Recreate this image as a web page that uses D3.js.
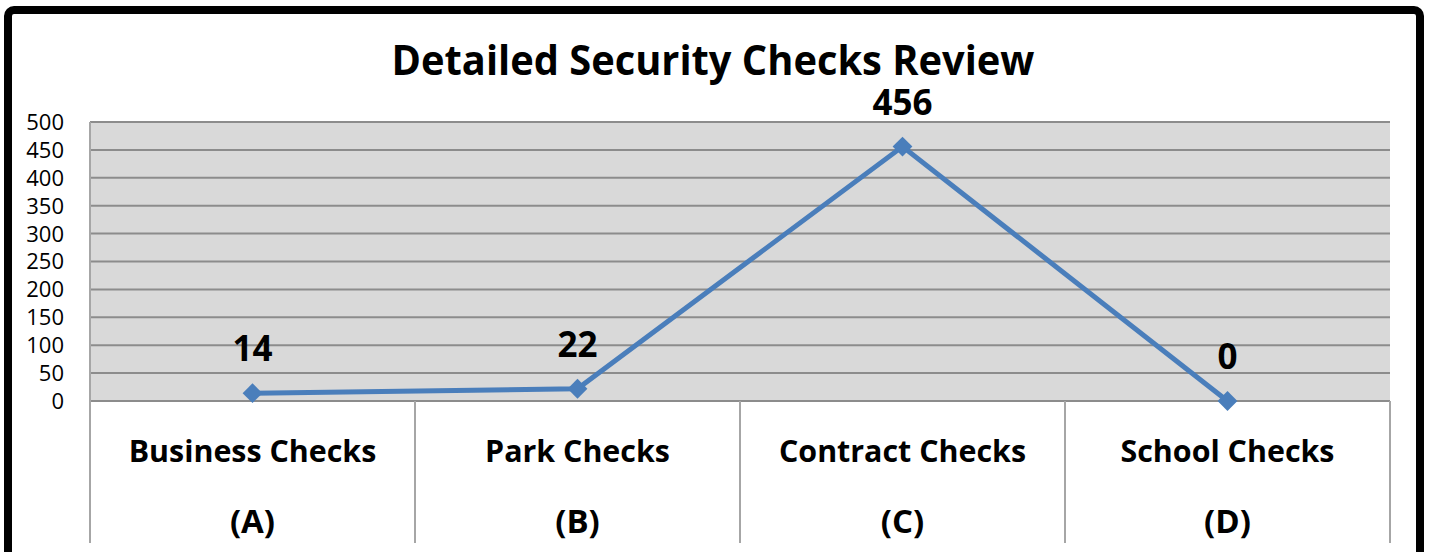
<!DOCTYPE html>
<html>
<head>
<meta charset="utf-8">
<script src="https://cdn.jsdelivr.net/npm/d3@7"></script>
<style>
  body { margin: 0; background: #fff; }
  svg { display: block; font-family: "Open Sans", "Liberation Sans", sans-serif; }
</style>
</head>
<body>
<div id="chart"></div>
<script>
// data
var categories = ["Business Checks", "Park Checks", "Contract Checks", "School Checks"];
var codes = ["(A)", "(B)", "(C)", "(D)"];
var values = [14, 22, 456, 0];
var yTicks = [0, 50, 100, 150, 200, 250, 300, 350, 400, 450, 500];
var title = "Detailed Security Checks Review";

var W = 1429, H = 552;
var margin = {top: 122, right: 39, bottom: 151, left: 90},
    width = W - margin.left - margin.right,
    height = H - margin.top - margin.bottom;

var svg = d3.select("#chart")
  .append("svg")
  .attr("width", W)
  .attr("height", H);

// outer frame (bottom edge runs off the picture)
svg.append("rect")
  .attr("x", 8).attr("y", 10)
  .attr("width", 1412).attr("height", 620)
  .attr("rx", 6)
  .attr("fill", "#fff")
  .attr("stroke", "#000")
  .attr("stroke-width", 8);

// squeeze text horizontally, Calibri is narrower than what we have
function squeeze(sel, k) {
  sel.each(function() {
    var len = this.getComputedTextLength();
    d3.select(this).attr("textLength", len * k).attr("lengthAdjust", "spacingAndGlyphs");
  });
}

svg.append("text")
  .attr("x", 713).attr("y", 75)
  .attr("text-anchor", "middle")
  .style("font-size", "42px")
  .style("font-weight", "bold")
  .text(title)
  .call(squeeze, 0.948);

var g = svg.append("g")
  .attr("transform", "translate(" + margin.left + "," + margin.top + ")");

var x = d3.scaleBand()
  .domain(categories)
  .range([0, width]);

var y = d3.scaleLinear()
  .domain([0, 500])
  .range([height, 0]);

// plot area
g.append("rect")
  .attr("width", width).attr("height", height)
  .attr("fill", "#d9d9d9");

g.selectAll(".grid")
  .data(yTicks)
  .enter()
  .append("line")
  .attr("x1", 0).attr("x2", width)
  .attr("y1", function(d) { return y(d); })
  .attr("y2", function(d) { return y(d); })
  .attr("stroke", "#8c8c8c")
  .attr("stroke-width", 2);

// y labels
g.selectAll(".ylab")
  .data(yTicks)
  .enter()
  .append("text")
  .attr("x", -26)
  .attr("y", function(d) { return y(d); })
  .attr("dy", "0.36em")
  .attr("text-anchor", "end")
  .style("font-size", "22px")
  .attr("fill", "#000")
  .text(function(d) { return d; });

// category dividers
var edges = categories.map(function(c) { return x(c); }).concat([width]);
g.selectAll(".div")
  .data(edges)
  .enter()
  .append("line")
  .attr("x1", function(d) { return d; })
  .attr("x2", function(d) { return d; })
  .attr("y1", function(d, i) { return i == 0 ? 0 : height; })
  .attr("y2", height + 142)
  .attr("stroke", "#a6a6a6")
  .attr("stroke-width", 2);

// category labels
var cx = function(c) { return x(c) + x.bandwidth() / 2; };
g.selectAll(".cat")
  .data(categories)
  .enter()
  .append("text")
  .attr("x", cx)
  .attr("y", height + 61)
  .attr("text-anchor", "middle")
  .style("font-size", "31px")
  .style("font-weight", "bold")
  .text(function(d) { return d; })
  .call(squeeze, 0.98);

g.selectAll(".code")
  .data(codes)
  .enter()
  .append("text")
  .attr("x", function(d, i) { return cx(categories[i]); })
  .attr("y", height + 132)
  .attr("text-anchor", "middle")
  .style("font-size", "33px")
  .style("font-weight", "bold")
  .text(function(d) { return d; });

// series
var pts = categories.map(function(c, i) { return {c: c, v: values[i]}; });

g.append("path")
  .datum(pts)
  .attr("d", d3.line()
    .x(function(d) { return cx(d.c); })
    .y(function(d) { return y(d.v); }))
  .attr("fill", "none")
  .attr("stroke", "#4a7ebb")
  .attr("stroke-width", 5);

g.selectAll(".mark")
  .data(pts)
  .enter()
  .append("path")
  .attr("d", d3.symbol().type(d3.symbolDiamond2).size(250))
  .attr("transform", function(d) { return "translate(" + cx(d.c) + "," + y(d.v) + ")"; })
  .attr("fill", "#4a7ebb");

g.selectAll(".dlab")
  .data(pts)
  .enter()
  .append("text")
  .attr("x", function(d) { return cx(d.c); })
  .attr("y", function(d) { return y(d.v) - 32; })
  .attr("text-anchor", "middle")
  .style("font-size", "35px")
  .style("font-weight", "bold")
  .text(function(d) { return d.v; });
</script>
</body>
</html>
